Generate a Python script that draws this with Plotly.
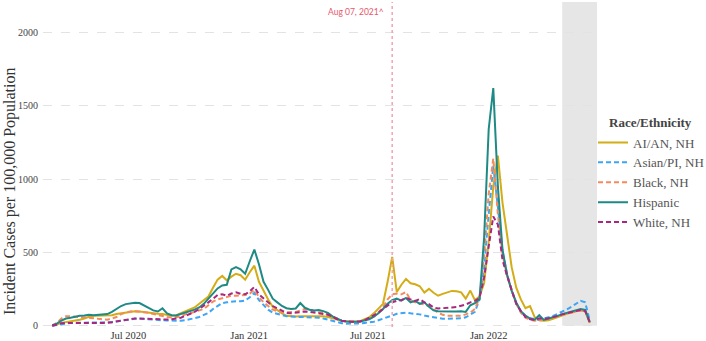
import pandas as pd
import plotly.graph_objects as go

# weekly dates
start_date = "2020-03-07"
n_weeks = 118
dates = pd.date_range(start_date, periods=n_weeks, freq="7D")

aian = [2, 8, 20, 25, 28, 35, 42, 50, 62, 68, 68, 68, 68, 72, 80, 85, 92, 98, 100, 97,
        92, 88, 85, 82, 80, 75, 68, 72, 85, 100, 115, 125, 150, 175, 200, 260, 315, 340, 310, 335,
        355, 345, 315, 365, 410, 300, 235, 180, 130, 105, 85, 68, 63, 63, 65, 65, 68, 70, 68, 65,
        60, 55, 45, 33, 30, 30, 30, 32, 45, 58, 85, 120, 150, 300, 470, 230, 280, 320, 290, 283,
        270, 227, 252, 225, 205, 218, 228, 238, 235, 228, 185, 240, 175, 200, 290, 570, 950, 1160, 840, 630,
        400, 260, 180, 120, 135, 60, 38, 34, 38, 48, 60, 72, 82, 90, 100, 108, 100, 20]

asian = [0, 5, 12, 18, 20, 20, 20, 20, 20, 22, 20, 20, 22, 25, 30, 35, 40, 45, 48, 48,
         45, 42, 40, 38, 38, 36, 35, 35, 35, 38, 45, 52, 60, 75, 88, 115, 135, 155, 160, 165,
         168, 168, 172, 195, 225, 175, 140, 110, 90, 80, 70, 65, 63, 62, 60, 58, 58, 57, 55, 50,
         42, 35, 25, 18, 15, 14, 14, 16, 20, 23, 28, 38, 48, 55, 70, 82, 88, 90, 85, 82,
         78, 70, 65, 58, 52, 48, 48, 48, 50, 52, 58, 75, 95, 180, 400, 760, 1090, 810, 510, 350,
         240, 150, 100, 65, 52, 45, 42, 50, 58, 68, 82, 95, 112, 130, 150, 170, 160, 35]

black = [0, 20, 50, 65, 65, 63, 62, 60, 55, 52, 48, 45, 42, 50, 60, 80, 90, 98, 100, 98,
         92, 88, 80, 72, 68, 60, 57, 58, 65, 78, 85, 95, 102, 115, 140, 165, 180, 190, 200, 205,
         205, 205, 210, 220, 245, 195, 160, 135, 110, 100, 92, 92, 92, 95, 105, 115, 112, 100, 92, 90,
         78, 65, 50, 35, 30, 28, 28, 30, 38, 50, 62, 90, 125, 180, 215, 220, 215, 230, 175, 160,
         155, 145, 135, 110, 90, 75, 68, 68, 68, 68, 78, 90, 115, 190, 470, 900, 1140, 760, 490, 340,
         240, 150, 90, 55, 42, 35, 38, 40, 48, 55, 65, 75, 82, 90, 98, 105, 100, 22]

hispanic = [5, 15, 35, 50, 55, 62, 68, 70, 75, 72, 75, 73, 80, 95, 115, 135, 148, 155, 158, 155,
            140, 120, 105, 98, 120, 85, 72, 70, 80, 90, 98, 110, 125, 150, 185, 220, 255, 275, 280, 385,
            400, 385, 355, 440, 520, 420, 300, 245, 185, 160, 135, 120, 115, 118, 155, 123, 110, 105, 108, 100,
            88, 65, 48, 35, 30, 28, 28, 30, 35, 45, 62, 85, 115, 150, 175, 185, 172, 190, 160, 170,
            150, 160, 130, 105, 100, 98, 98, 98, 98, 100, 95, 140, 155, 180, 600, 1340, 1620, 950, 520, 350,
            240, 160, 100, 70, 50, 42, 72, 40, 50, 57, 68, 80, 90, 100, 108, 115, 108, 25]

white = [0, 10, 18, 20, 20, 20, 20, 20, 18, 18, 18, 18, 20, 25, 30, 35, 42, 48, 50, 50,
         48, 48, 46, 45, 45, 43, 45, 48, 55, 68, 80, 95, 115, 135, 160, 185, 210, 215, 205, 220,
         228, 218, 215, 235, 265, 215, 185, 160, 135, 120, 100, 88, 85, 88, 95, 98, 95, 90, 85, 82,
         75, 62, 45, 35, 30, 28, 28, 30, 38, 55, 70, 90, 115, 135, 160, 170, 175, 190, 180, 170,
         182, 160, 148, 125, 118, 122, 125, 125, 128, 135, 145, 160, 170, 190, 330, 540, 745, 690, 450, 340,
         240, 150, 100, 60, 45, 40, 52, 48, 52, 58, 68, 78, 85, 92, 100, 108, 100, 25]

series_names = ["AI/AN, NH", "Asian/PI, NH", "Black, NH", "Hispanic", "White, NH"]
series_values = [aian, asian, black, hispanic, white]
series_colors = ["#D4AC16", "#3DA5F4", "#F58A5C", "#1E8A85", "#A8287F"]
series_dash = ["solid", "5px,3px", "5px,3px", "solid", "5px,3px"]

tick_vals = ["2020-07-01", "2021-01-01", "2021-07-01", "2022-01-01"]
tick_text = ["Jul 2020", "Jan 2021", "Jul 2021", "Jan 2022"]
y_ticks = [0, 500, 1000, 1500, 2000]

marker_date = "2021-08-07"
marker_label = "Aug 07, 2021^"
shade_start = "2022-04-23"
x_range = ["2020-02-22", "2022-06-15"]
y_range = [-8, 2207]
legend_title = "Race/Ethnicity"

serif = "Liberation Serif, Times New Roman, serif"

W, H = 706, 341
ML, MR, MT, MB = 43, 109, 2, 14
PW, PH = W - ML - MR, H - MT - MB


def px_x(px):
    return (px - ML) / PW


def px_y(py):
    return 1 - (py - MT) / PH


fig = go.Figure()
for name, vals, col, dash in zip(series_names, series_values, series_colors, series_dash):
    fig.add_trace(go.Scatter(
        x=dates, y=vals, name=name, mode="lines",
        line=dict(color=col, width=2, dash=dash),
    ))

fig.add_shape(type="rect", xref="x", yref="y", x0=shade_start, x1=x_range[1],
              y0=0, y1=y_range[1], fillcolor="#e6e6e6", line_width=0, layer="below")
fig.add_shape(type="line", xref="x", yref="paper", x0=marker_date, x1=marker_date,
              y0=0, y1=1, line=dict(color="#f4a3b3", width=1.5, dash="dot"))
fig.add_annotation(x=marker_date, xref="x", y=px_y(12), yref="paper", yanchor="middle",
                   text=marker_label, showarrow=False, xanchor="right", xshift=-6,
                   font=dict(family="Lato, sans-serif", size=8.5, color="#e8566c"))

fig.add_annotation(text="Incident Cases per 100,000 Population", textangle=-90,
                   xref="paper", yref="paper", x=px_x(10), y=px_y(191),
                   xanchor="center", yanchor="middle", showarrow=False,
                   font=dict(family=serif, size=16, color="#333333"))

fig.add_annotation(text="<b>" + legend_title + "</b>", xref="paper", yref="paper",
                   x=px_x(607), y=px_y(123), xanchor="left", yanchor="middle",
                   showarrow=False, font=dict(family=serif, size=13, color="#444444"))

fig.update_layout(
    width=W, height=H,
    margin=dict(l=ML, r=MR, t=MT, b=MB, autoexpand=False),
    plot_bgcolor="white", paper_bgcolor="white",
    font=dict(family=serif, size=12, color="#333333"),
    showlegend=True,
    legend=dict(
        font=dict(family=serif, size=13, color="#555555"),
        x=px_x(593), xanchor="left", y=px_y(127.5), yanchor="top",
        bgcolor="rgba(0,0,0,0)", tracegroupgap=0,
    ),
    xaxis=dict(
        range=x_range, tickvals=tick_vals, ticktext=tick_text,
        showgrid=False, zeroline=False, showline=False, ticks="",
        tickfont=dict(family=serif, size=10.5, color="#333333"), automargin=False,
    ),
    yaxis=dict(
        range=y_range, tickvals=y_ticks, showgrid=True, gridcolor="#e3e3e3",
        griddash="dash", gridwidth=1, zeroline=False, showline=False, ticks="",
        ticklabelstandoff=4,
        tickfont=dict(family=serif, size=10, color="#444444"), automargin=False,
    ),
)
fig.update_yaxes(layer="below traces")

fig.write_html("out.html", post_script="document.body.style.margin='0';",
               config={"displayModeBar": False})
